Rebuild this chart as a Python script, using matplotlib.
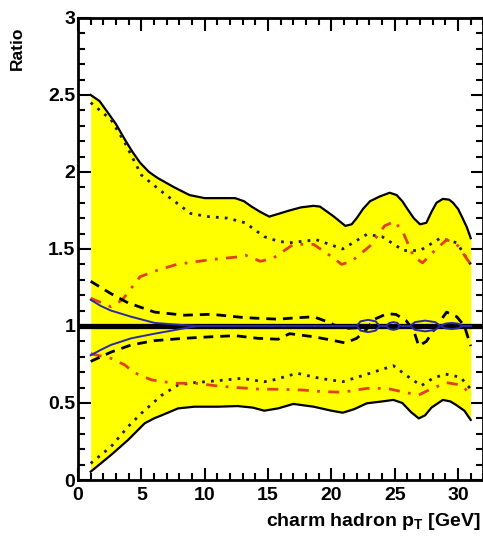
import matplotlib
matplotlib.use('Agg')
import numpy as np
import matplotlib.pyplot as plt
from matplotlib.ticker import MultipleLocator

plt.rcParams['font.family'] = ['Liberation Sans', 'DejaVu Sans']
plt.rcParams['font.weight'] = 'bold'
plt.rcParams['mathtext.default'] = 'regular'

# outer envelope (solid)
env_hi_x = [1, 1.7, 2.4, 3.0, 3.7, 4.3, 4.9, 5.6, 6.3, 7.6, 8.8, 10, 12.4, 13.1, 13.7, 14.4, 15.1, 15.9, 16.7, 17.6, 18.6, 19.1, 19.7, 20.2, 21.1, 21.6, 22.0, 22.5, 23.05, 23.8, 24.6, 25.15, 25.6, 26.0, 26.5, 27.0, 27.5, 27.9, 28.3, 28.8, 29.3, 29.6, 30.0, 30.3, 30.7, 31]
env_hi_y = [2.5, 2.46, 2.38, 2.31, 2.21, 2.13, 2.06, 2.0, 1.96, 1.90, 1.85, 1.83, 1.83, 1.81, 1.775, 1.74, 1.71, 1.73, 1.75, 1.77, 1.78, 1.775, 1.74, 1.71, 1.65, 1.66, 1.70, 1.76, 1.81, 1.84, 1.865, 1.85, 1.81, 1.76, 1.70, 1.66, 1.67, 1.74, 1.80, 1.825, 1.82, 1.80, 1.76, 1.71, 1.64, 1.57]
env_lo_x = [1, 2.6, 3.95, 5.26, 6.0, 6.6, 7.9, 9.2, 11.05, 12.6, 13.8, 14.7, 15.8, 17.0, 18.6, 20.0, 20.9, 21.8, 22.8, 24.0, 24.9, 25.6, 26.3, 26.9, 27.4, 27.9, 28.8, 29.4, 29.8, 30.5, 31]
env_lo_y = [0.054, 0.162, 0.26, 0.368, 0.40, 0.42, 0.465, 0.476, 0.476, 0.48, 0.47, 0.45, 0.465, 0.494, 0.476, 0.45, 0.437, 0.46, 0.498, 0.51, 0.52, 0.50, 0.44, 0.40, 0.42, 0.47, 0.52, 0.51, 0.49, 0.45, 0.39]

# dotted
dot_hi_x = [1, 2.6, 3.7, 5.0, 6.8, 8.9, 10.3, 11.8, 13.2, 14.7, 15.8, 16.7, 18.8, 20.9, 22.8, 24.0, 25.7, 27.0, 28.6, 29.9, 31]
dot_hi_y = [2.45, 2.34, 2.19, 1.98, 1.86, 1.73, 1.71, 1.70, 1.67, 1.58, 1.55, 1.54, 1.56, 1.50, 1.595, 1.58, 1.49, 1.49, 1.57, 1.54, 1.40]
dot_lo_x = [1, 2.6, 3.95, 5.0, 6.6, 7.9, 9.2, 11.05, 12.9, 14.7, 15.4, 17.3, 19.1, 20.9, 23.05, 24.9, 25.9, 27.1, 28.0, 29.0, 30.2, 31]
dot_lo_y = [0.108, 0.216, 0.346, 0.433, 0.55, 0.617, 0.632, 0.645, 0.66, 0.638, 0.649, 0.693, 0.66, 0.638, 0.693, 0.742, 0.68, 0.612, 0.66, 0.688, 0.667, 0.59]

# dash-dot (red)
red_hi_x = [1, 2.6, 3.5, 4.2, 4.9, 6.2, 7.8, 10.4, 12.8, 13.2, 14.4, 15.4, 17.0, 18.6, 20.2, 20.8, 21.6, 23.05, 24.2, 25.0, 25.7, 26.5, 27.2, 27.9, 29.1, 29.9, 31]
red_hi_y = [1.18, 1.125, 1.17, 1.245, 1.32, 1.36, 1.40, 1.43, 1.45, 1.46, 1.42, 1.44, 1.53, 1.53, 1.44, 1.40, 1.42, 1.52, 1.65, 1.68, 1.60, 1.45, 1.41, 1.47, 1.56, 1.53, 1.40]
red_lo_x = [1, 2.6, 3.7, 4.35, 5.8, 7.6, 9.3, 11.05, 12.6, 14.3, 15.9, 17.8, 19.4, 20.9, 22.8, 24.4, 25.9, 26.9, 27.8, 29.1, 30.2, 31]
red_lo_y = [0.82, 0.79, 0.747, 0.70, 0.65, 0.628, 0.628, 0.61, 0.60, 0.59, 0.589, 0.584, 0.573, 0.57, 0.595, 0.595, 0.567, 0.552, 0.589, 0.632, 0.617, 0.56]

# dashed
dash_a_x = [1, 2.6, 3.95, 6.05, 8.4, 10.5, 13.2, 15.8, 16.7, 18.6, 19.6, 20.4, 21.3, 22.3, 23.5, 31]
dash_a_y = [1.29, 1.21, 1.15, 1.09, 1.07, 1.076, 1.054, 1.044, 1.05, 1.06, 1.03, 1.0, 0.985, 0.99, 1.0, 1.0]
dash_b_x = [1, 2.6, 4.2, 6.05, 8.4, 10.5, 12.4, 14.2, 15.8, 16.7, 18.6, 19.9, 21.1, 22.0, 22.8, 23.3, 24.4, 25.1, 25.9, 26.5, 26.9, 27.5, 28.3, 29.1, 29.9, 30.5, 31]
dash_b_y = [0.77, 0.83, 0.877, 0.905, 0.92, 0.93, 0.937, 0.92, 0.914, 0.95, 0.93, 0.91, 0.89, 0.92, 0.98, 1.04, 1.08, 1.075, 1.035, 0.97, 0.87, 0.90, 1.0, 1.09, 1.06, 1.0, 0.87]

# blue band
blue_x = [1, 1.8, 2.6, 4.2, 6.05, 8.4, 9.5, 22.0, 22.3, 22.9, 23.5, 23.8, 24.3, 24.6, 24.9, 25.2, 25.4, 26.2, 26.6, 27.4, 28.2, 28.6, 29.0, 29.5, 30.0, 30.4, 31]
blue_hi = [1.17, 1.13, 1.10, 1.06, 1.02, 1.005, 1.0, 1.0, 1.03, 1.04, 1.03, 1.0, 1.0, 1.02, 1.025, 1.02, 1.0, 1.0, 1.025, 1.035, 1.025, 1.0, 1.015, 1.02, 1.015, 1.0, 1.0]
blue_lo = [0.81, 0.845, 0.877, 0.92, 0.95, 0.985, 1.0, 1.0, 0.97, 0.96, 0.97, 1.0, 1.0, 0.98, 0.975, 0.98, 1.0, 1.0, 0.975, 0.965, 0.975, 1.0, 0.985, 0.98, 0.985, 1.0, 1.0]

fig = plt.figure(figsize=(4.83, 5.43), dpi=100)
ax = fig.add_axes([0.1615, 0.116, 0.8393, 0.851])

# yellow band between the two solid envelopes
gx = np.union1d(env_hi_x, env_lo_x)
ax.fill_between(gx, np.interp(gx, env_lo_x, env_lo_y), np.interp(gx, env_hi_x, env_hi_y),
                color='#ffff00', lw=0, zorder=1)

ax.plot(env_hi_x, env_hi_y, color='black', lw=1.6, zorder=3)
ax.plot(env_lo_x, env_lo_y, color='black', lw=1.6, zorder=3)
ax.plot(dot_hi_x, dot_hi_y, color='#202040', lw=2.0, ls=(0, (1, 2.2)), zorder=3)
ax.plot(dot_lo_x, dot_lo_y, color='#202040', lw=2.0, ls=(0, (1, 2.2)), zorder=3)
ax.plot(red_hi_x, red_hi_y, color='#e0401c', lw=2.0, ls=(0, (4, 3, 1, 3)), zorder=3)
ax.plot(red_lo_x, red_lo_y, color='#e0401c', lw=2.0, ls=(0, (4, 3, 1, 3)), zorder=3)
ax.plot(dash_a_x, dash_a_y, color='black', lw=2.0, ls=(0, (3.5, 2.5)), zorder=3)
ax.plot(dash_b_x, dash_b_y, color='black', lw=2.0, ls=(0, (3.5, 2.5)), zorder=3)
ax.axhline(1.0, color='black', lw=3.8, zorder=4)
ax.plot(blue_x, blue_hi, color='#2a2aa0', lw=1.4, zorder=5)
ax.plot(blue_x, blue_lo, color='#2a2aa0', lw=1.4, zorder=5)

ax.set_xlim(0, 32)
ax.set_ylim(0, 3)
ax.xaxis.set_major_locator(MultipleLocator(5))
ax.xaxis.set_minor_locator(MultipleLocator(1))
ax.yaxis.set_minor_locator(MultipleLocator(0.1))
ax.set_yticks([0, 0.5, 1, 1.5, 2, 2.5, 3])
ax.set_yticklabels(['0', '0.5', '1', '1.5', '2', '2.5', '3'])
ax.tick_params(which='both', direction='in', top=True, right=True, width=1.5)
ax.tick_params(which='major', length=9)
ax.tick_params(which='minor', length=5)
ax.tick_params(axis='x', pad=5, labelsize=14)
ax.tick_params(axis='y', pad=2, labelsize=14)
for s in ax.spines.values():
    s.set_linewidth(2)

fig.text(17 / 483, 1 - 48 / 543, 'Ratio', rotation=90, ha='center', va='center',
         fontsize=12.5, fontweight='bold')
fig.text(481 / 483, 1 - 522 / 543, r'charm hadron p$_T$ [GeV]', ha='right', va='center',
         fontsize=14, fontweight='bold')

fig.savefig('out.png', dpi=100)
